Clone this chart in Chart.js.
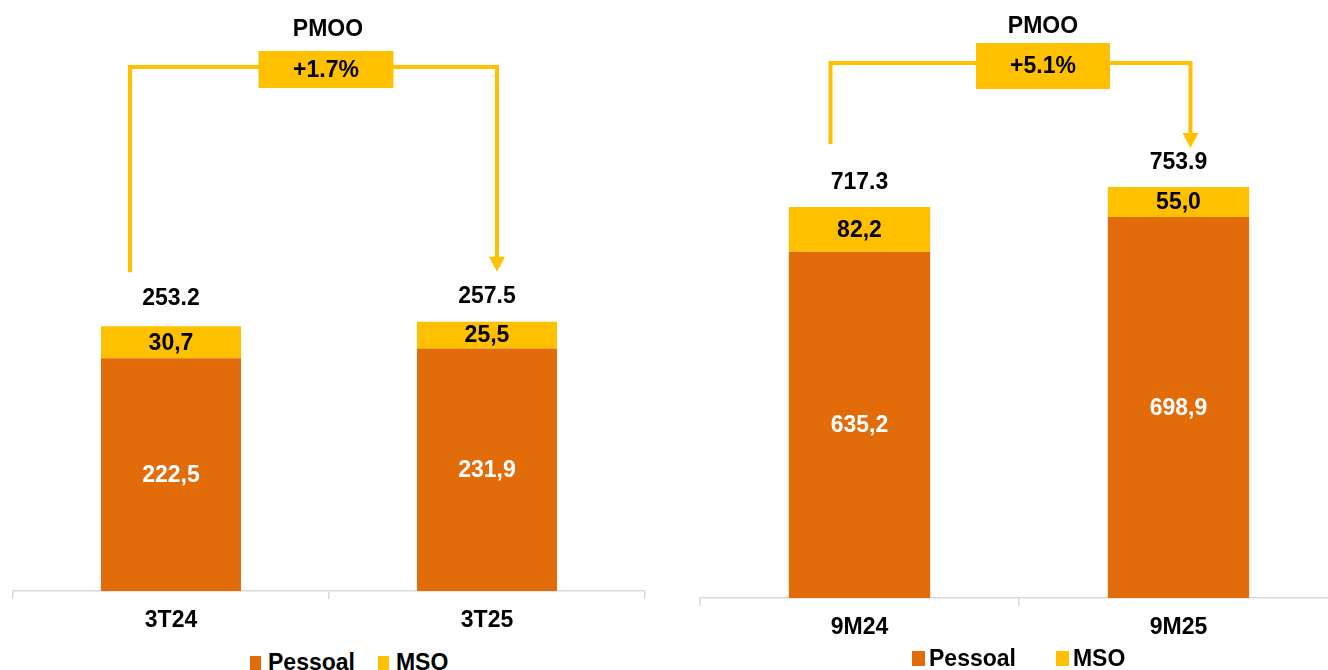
<!DOCTYPE html>
<html>
<head>
<meta charset="utf-8">
<script src="https://cdn.jsdelivr.net/npm/chart.js@4.4.1/dist/chart.umd.min.js"></script>
<style>
  html, body { margin: 0; width: 1328px; height: 670px; overflow: hidden; background: #fff; }
  body { position: relative; font-family: "Liberation Sans", Arial, sans-serif; }
  canvas { position: absolute; top: 0; }
  #leftChart { left: 11px; }
  #rightChart { left: 698px; }
  .legend { position: absolute; font-weight: bold; font-size: 23px; color: #000; white-space: nowrap; line-height: 26px; }
  .legend .sw { display: inline-block; width: 11px; height: 14px; margin-right: 7px; }
  #rightLegend .sw { width: 13px; height: 15px; margin-right: 4px; }
</style>
</head>
<body>
<canvas id="leftChart" width="636" height="640"></canvas>
<canvas id="rightChart" width="660" height="647"></canvas>
<div class="legend" id="leftLegend" style="left:250px; top:649px;"></div>
<div class="legend" id="rightLegend" style="left:912px; top:645px;"></div>
<script>
const ORANGE = "#E36C0A";
const YELLOW = "#FFC000";
const FONT = "'Liberation Sans', Arial, sans-serif";

// quarter comparison
const quarterLabels = ["3T24", "3T25"];
const quarterPessoal = [222.5, 231.9];
const quarterMso = [30.7, 25.5];
const quarterTotals = [253.2, 257.5];

// nine-month comparison
const ytdLabels = ["9M24", "9M25"];
const ytdPessoal = [635.2, 698.9];
const ytdMso = [82.2, 55.0];
const ytdTotals = [717.3, 753.9];

const seriesNames = ["Pessoal", "MSO"];

Chart.defaults.font.family = FONT;

// numbers inside the segments and the total above each stack
const valueLabels = {
  id: "valueLabels",
  afterDatasetsDraw(chart, args, opts) {
    const ctx = chart.ctx;
    ctx.save();
    ctx.font = "bold 23px " + FONT;
    ctx.textAlign = "center";
    ctx.textBaseline = "middle";
    chart.data.datasets.forEach((ds, i) => {
      chart.getDatasetMeta(i).data.forEach((bar, j) => {
        ctx.fillStyle = ds.labelColor;
        ctx.fillText(ds.data[j].toFixed(1).replace(".", ","), bar.x, (bar.y + bar.base) / 2 + 1);
      });
    });
    const topMeta = chart.getDatasetMeta(chart.data.datasets.length - 1);
    ctx.fillStyle = "#000";
    opts.totals.forEach((t, j) => {
      const bar = topMeta.data[j];
      ctx.fillText(t.toFixed(1), bar.x, bar.y - opts.gaps[j]);
    });
    ctx.restore();
  }
};

// PMOO bracket with growth box and arrow
const pmooBracket = {
  id: "pmooBracket",
  afterDraw(chart, args, o) {
    const ctx = chart.ctx;
    const meta = chart.getDatasetMeta(chart.data.datasets.length - 1);
    const a = meta.data[0], b = meta.data[1];
    const x1 = a.x + o.leftDx, x2 = b.x + o.rightDx;
    const yL = o.lineY;
    const tipY = b.y - o.arrowGap;
    ctx.save();
    ctx.strokeStyle = YELLOW;
    ctx.fillStyle = YELLOW;
    ctx.lineWidth = 4;
    ctx.beginPath();
    ctx.moveTo(x1, a.y - o.legGap);
    ctx.lineTo(x1, yL);
    ctx.lineTo(x2, yL);
    ctx.lineTo(x2, tipY - 12);
    ctx.stroke();
    ctx.beginPath();
    ctx.moveTo(x2 - 8, tipY - 15);
    ctx.lineTo(x2 + 8, tipY - 15);
    ctx.lineTo(x2, tipY);
    ctx.closePath();
    ctx.fill();

    const cx = (a.x + b.x) / 2 + o.boxDx;
    ctx.fillRect(cx - o.boxW / 2, o.boxTop, o.boxW, o.boxH);
    const totals = chart.options.plugins.valueLabels.totals;
    const growth = ((totals[1] / totals[0] - 1) * 100).toFixed(1);
    ctx.fillStyle = "#000";
    ctx.font = "bold 23px " + FONT;
    ctx.textAlign = "center";
    ctx.textBaseline = "middle";
    ctx.fillText("+" + growth + "%", cx, o.boxTop + o.boxH / 2 + 1);
    ctx.fillText("PMOO", cx + o.titleDx, o.titleY);
    ctx.restore();
  }
};

function drawChart(id, labels, pessoal, mso, totals, yMax, opts) {
  return new Chart(document.getElementById(id), {
    type: "bar",
    data: {
      labels,
      datasets: [
        { label: seriesNames[0], data: pessoal, backgroundColor: ORANGE, labelColor: "#fff" },
        { label: seriesNames[1], data: mso, backgroundColor: YELLOW, labelColor: "#000" },
      ],
    },
    options: {
      responsive: false,
      animation: false,
      datasets: { bar: { barPercentage: 1, categoryPercentage: 0.443 } },
      layout: { padding: { left: 2, right: opts.padRight, top: 0, bottom: 0 } },
      scales: {
        x: {
          stacked: true,
          grid: { drawOnChartArea: false, offset: true, color: "#D9D9D9", lineWidth: 1.5, tickLength: 8 },
          border: { color: "#D9D9D9", width: 1.5 },
          ticks: { color: "#000", font: { size: 23, weight: "bold" }, padding: 8 },
          afterFit: (s) => { s.height = 49; },
        },
        y: { stacked: true, display: false, min: 0, max: yMax },
      },
      plugins: {
        legend: { display: false },
        tooltip: { enabled: false },
        valueLabels: { totals, gaps: opts.totalGaps },
        pmooBracket: opts.bracket,
      },
    },
    plugins: [valueLabels, pmooBracket],
  });
}

drawChart("leftChart", quarterLabels, quarterPessoal, quarterMso, quarterTotals, 565, {
  padRight: 2,
  totalGaps: [27, 25],
  bracket: { leftDx: -41, rightDx: 10, lineY: 67, legGap: 54, arrowGap: 50,
             boxDx: -3, boxW: 135, boxH: 37, boxTop: 51, titleDx: 2, titleY: 30 },
});

drawChart("rightChart", ytdLabels, ytdPessoal, ytdMso, ytdTotals, 1097, {
  padRight: 20,
  totalGaps: [24, 24],
  bracket: { leftDx: -29, rightDx: 12, lineY: 63, legGap: 63, arrowGap: 39,
             boxDx: 24, boxW: 134, boxH: 46, boxTop: 43, titleDx: 0, titleY: 27 },
});

// legends under each chart
function buildLegend(id, gap) {
  const el = document.getElementById(id);
  el.innerHTML = seriesNames.map((name, i) =>
    `<span style="margin-right:${i === 0 ? gap : 0}px"><span class="sw" style="background:${i === 0 ? ORANGE : YELLOW}"></span>${name}</span>`
  ).join("");
}
buildLegend("leftLegend", 23);
buildLegend("rightLegend", 40);
</script>
</body>
</html>
